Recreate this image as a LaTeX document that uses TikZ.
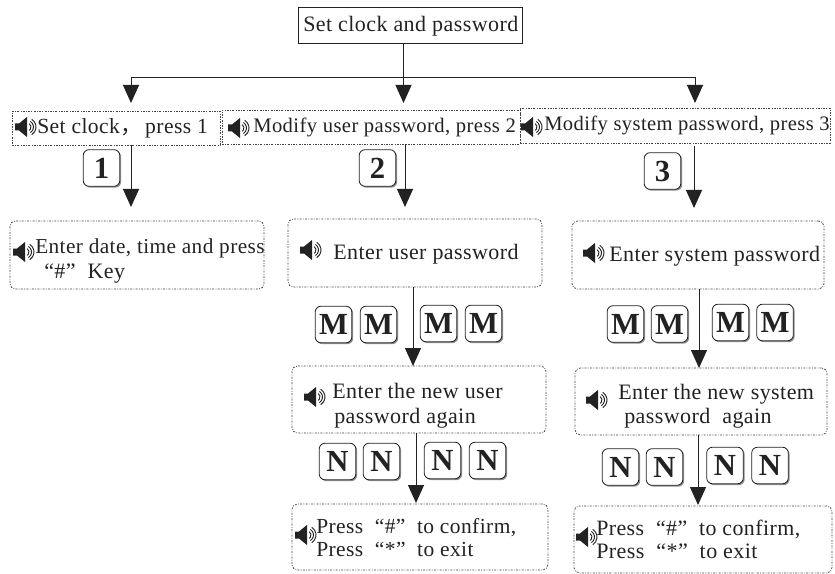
\documentclass[tikz,border=0pt]{standalone}
\usepackage{fontspec}
\usepackage{graphicx}
\setmainfont[LetterSpace=2]{Liberation Serif}
\newfontfamily\cjk{Noto Sans CJK SC}
\usetikzlibrary{arrows.meta,fit,shadows}
\definecolor{ink}{HTML}{222222}
\definecolor{dotline}{HTML}{444444}
\newcommand\fw[2]{\resizebox{#1pt}{!}{#2}}
\tikzset{
  topbox/.style={draw=ink,line width=.7pt,inner sep=0pt},
  dotbox/.style={draw=dotline,line width=.55pt,dash pattern=on 1.5pt off 1pt on .6pt off 1pt,inner sep=0pt},
  dotround/.style={dotbox,rounded corners=4pt},
  lbl/.style={anchor=base west,inner sep=0pt,text=ink,font=\fontsize{16.5}{20}\selectfont},
  keycap/.style={draw=ink,line width=.6pt,fill=white,rounded corners=4.5pt,minimum size=27.5pt,inner sep=0pt,text=ink,
    font=\fontsize{23}{24}\bfseries,drop shadow={shadow xshift=1pt,shadow yshift=-1pt,opacity=.45,fill=black}},
  conn/.style={draw=ink,line width=.75pt},
  arr/.style={conn,-{Triangle[width=12pt,length=13.5pt]}},
  spk/.pic={
    \fill[ink] (0,-3.5) -- (4,-3.5) -- (12,-10) -- (12,10) -- (4,3.5) -- (0,3.5) -- cycle;
    \foreach \r in {3,5.5,8}{
      \draw[ink,line width=.7pt] (12,0) ++(-58:\r+1) arc[start angle=-58,end angle=58,radius=\r+1];
    }
  }
}
\begin{document}
\begin{tikzpicture}[x=.75pt,y=-.75pt]
\useasboundingbox (0,0) rectangle (835,574);
% boxes
\node (top) [topbox,fit={(298,7) (522,43)}] {};
\node (r1) [dotbox,fit={(12,111) (220,145)}] {};
\node (r2) [dotbox,fit={(222,110) (520,144)}] {};
\node (r3) [dotbox,fit={(520,108) (830,143)}] {};
\node (d1) [dotround,fit={(10,221) (264,289)}] {};
\node (u1) [dotround,fit={(288,219) (542,287)}] {};
\node (u2) [dotround,fit={(292,366) (546,433)}] {};
\node (u3) [dotround,fit={(292,504) (548,570)}] {};
\node (s1) [dotround,fit={(572,221) (824,289)}] {};
\node (s2) [dotround,fit={(575,368) (827,435)}] {};
\node (s3) [dotround,fit={(574,506) (832,573)}] {};
% connector helpers
\coordinate (j0) at (403.5,78);
\coordinate (jL) at (131,78);
\coordinate (jR) at (695,78);
\coordinate (tL) at (131,103);
\coordinate (tM) at (403.5,103);
\coordinate (tR) at (695,103);
\coordinate (a1) at (131,207);
\coordinate (a2) at (405,207);
\coordinate (a3) at (694,208);
\coordinate (a4) at (413,366);
\coordinate (a5) at (416,503);
\coordinate (a6) at (699,368);
\coordinate (a7) at (698,505);
% connectors
\draw[conn] (top.south -| j0) -- (j0);
\draw[arr] (j0) -- (tM);
\draw[arr] (j0) -- (jL) -- (tL);
\draw[arr] (j0) -- (jR) -- (tR);
\draw[arr] (r1.south -| a1) -- (a1);
\draw[arr] (r2.south -| a2) -- (a2);
\draw[arr] (r3.south -| a3) ++(0,3) -- (a3);
\draw[arr] (u1.south -| a4) -- (a4);
\draw[arr] (u2.south -| a5) -- (a5);
\draw[arr] (s1.south -| a6) -- (a6);
\draw[arr] (s2.south -| a7) -- (a7);
% keys
\node (k1) [keycap] at (101.5,168) {1};
\node (k2) [keycap] at (377.5,168) {2};
\node (k3) [keycap] at (662.5,171) {3};
\node (um1) [keycap] at (333.5,324.5) {M};
\node (um2) [keycap] at (378.5,324.5) {M};
\node (um3) [keycap] at (438.5,323.5) {M};
\node (um4) [keycap] at (483.5,323.5) {M};
\node (un1) [keycap] at (337.5,461.5) {N};
\node (un2) [keycap] at (381.5,461.5) {N};
\node (un3) [keycap] at (442.5,460.5) {N};
\node (un4) [keycap] at (487.5,460.5) {N};
\node (sm1) [keycap] at (625.5,324) {M};
\node (sm2) [keycap] at (669.5,324) {M};
\node (sm3) [keycap] at (730.5,322.5) {M};
\node (sm4) [keycap] at (775,322.5) {M};
\node (sn1) [keycap] at (620.5,467) {N};
\node (sn2) [keycap] at (664.5,467) {N};
\node (sn3) [keycap] at (725,465.5) {N};
\node (sn4) [keycap] at (770,465.5) {N};
% speakers
\pic at (15,127) {spk};
\pic at (228,128) {spk};
\pic at (521,127) {spk};
\pic at (13,252) {spk};
\pic at (300,250) {spk};
\pic at (304,397) {spk};
\pic at (295,535) {spk};
\pic at (583,253) {spk};
\pic at (586,400) {spk};
\pic at (576,537) {spk};
% labels
\node (t0) [lbl] at (303,32) {Set clock and password};
\node (t1) [lbl] at (37,134) {\fw{128}{Set clock{\cjk ，}\,press 1}};
\node (t2) [lbl] at (253,133) {\fw{197}{Modify user password, press 2}};
\node (t3) [lbl] at (544,131) {\fw{214}{Modify system password, press 3}};
\node (t4) [lbl] at (35,253) {\fw{172}{Enter date, time and press}};
\node (t5) [lbl] at (44,278) {“\#”\ \ Key};
\node (t6) [lbl] at (333,259) {Enter user password};
\node (t7) [lbl] at (332,398) {Enter the new user};
\node (t8) [lbl] at (334,423) {password again};
\node (t9) [lbl] at (316,533) {\fw{150}{Press\ \ “\#”\ \ to confirm,}};
\node (t10) [lbl] at (316,556) {\fw{118}{Press\ \ “*”\ \ to exit}};
\node (t11) [lbl] at (609,261) {Enter system password};
\node (t12) [lbl] at (618,399) {Enter the new system};
\node (t13) [lbl] at (624,423) {password\ \ again};
\node (t14) [lbl] at (596,535) {\fw{153}{Press\ \ “\#”\ \ to confirm,}};
\node (t15) [lbl] at (596,558) {\fw{121}{Press\ \ “*”\ \ to exit}};
\end{tikzpicture}
\end{document}
